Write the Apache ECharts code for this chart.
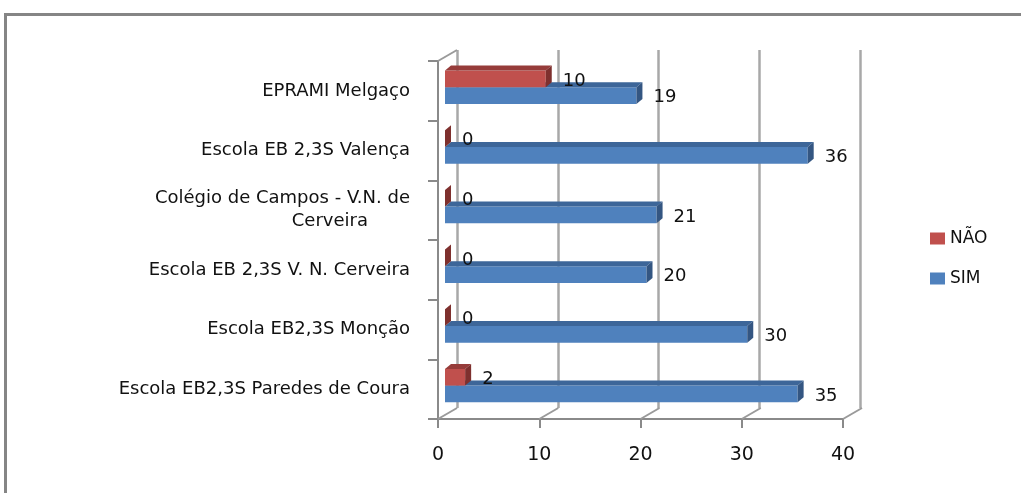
<!DOCTYPE html>
<html lang="pt">
<head>
  <meta charset="UTF-8">
  <title>SIM / NÃO por escola</title>
  <style>
    html, body { margin: 0; padding: 0; background: #fff; }
    #main { width: 1021px; height: 493px; }
  </style>
</head>
<body>
  <div id="main"></div>
  <script src="https://cdn.jsdelivr.net/npm/echarts@6/dist/echarts.min.js"></script>
  <script>
  // dados (de baixo para cima)
  let categories = [
    'Escola EB2,3S Paredes de Coura',
    'Escola EB2,3S Monção',
    'Escola EB 2,3S V. N. Cerveira',
    'Colégio de Campos - V.N. de\nCerveira',
    'Escola EB 2,3S Valença',
    'EPRAMI Melgaço'
  ];
  let simValues = [35, 30, 20, 21, 36, 19];
  let naoValues = [2, 0, 0, 0, 0, 10];
  let xTicks = [0, 10, 20, 30, 40];

  let FONT = 'DejaVu Sans';
  let DX = 6, DY = -5;   // profundidade das barras

  let colors = {
    'SIM': { front: '#4f81bd', top: '#3d6699', side: '#345682' },
    'NÃO': { front: '#c0504d', top: '#963c3a', side: '#7e302e' }
  };

  function barRenderer(name, upper) {
    return function(params, api) {
      let v = api.value(0);
      let c = api.value(1);
      let p0 = api.coord([0, c]);
      let p1 = api.coord([v, c]);
      let band = api.size([0, 1])[1];
      let h = band * 0.28;
      let mid = p0[1] - band * 0.06;
      let top = upper ? mid - h : mid;
      let x0 = p0[0], x1 = p1[0];
      let col = colors[name];
      let children = [];
      if (x1 > x0) {
        children.push({ type: 'rect', shape: { x: x0, y: top, width: x1 - x0, height: h },
          style: { fill: col.front } });
        children.push({ type: 'polygon', shape: { points: [[x0, top], [x1, top], [x1 + DX, top + DY], [x0 + DX, top + DY]] },
          style: { fill: col.top } });
      }
      children.push({ type: 'polygon', shape: { points: [[x1, top], [x1 + DX, top + DY], [x1 + DX, top + h + DY], [x1, top + h]] },
        style: { fill: col.side } });
      children.push({ type: 'text', style: { text: String(v), x: x1 + DX + 11, y: top + h / 2 + 2,
        verticalAlign: 'middle', fill: '#111', font: '18px "' + FONT + '"' } });
      return { type: 'group', children: children };
    };
  }

  function floorRenderer(params, api) {
    let v = api.value(0);
    let band = api.size([0, 1])[1];
    let pb = api.coord([v, 0]);
    let yb = pb[1] + band / 2;
    let lineStyle = { stroke: '#9a9a9a', lineWidth: 2 };
    let children = [{ type: 'line', shape: { x1: pb[0], y1: yb, x2: pb[0] + 19, y2: yb - 11 }, style: lineStyle }];
    if (v === 0) {
      let pt = api.coord([0, categories.length - 1]);
      let yt = pt[1] - band / 2;
      children.push({ type: 'line', shape: { x1: pt[0], y1: yt, x2: pt[0] + 19, y2: yt - 11 }, style: lineStyle });
    }
    return { type: 'group', children: children };
  }

  let myChart = echarts.init(document.getElementById('main'));
  let option = {
    backgroundColor: '#fff',
    animation: false,
    graphic: [{
      type: 'rect', left: 3, top: 12, shape: { width: 1100, height: 600 },
      style: { fill: 'none', stroke: '#858585', lineWidth: 3 }, silent: true
    }],
    legend: {
      data: ['NÃO', 'SIM'],
      orient: 'vertical',
      left: 925, top: 225,
      icon: 'rect',
      itemWidth: 15, itemHeight: 12, itemGap: 23,
      textStyle: { fontFamily: FONT, fontSize: 17, color: '#111' }
    },
    grid: [
      // barras
      { left: 445, width: 403, top: 61, height: 358 },
      // plano da frente (eixos)
      { left: 438, width: 405, top: 61, height: 358 },
      // plano de trás (grelha)
      { left: 457, width: 403, top: 50, height: 358 }
    ],
    xAxis: [
      { gridIndex: 0, type: 'value', min: 0, max: 40, interval: 10, show: false },
      { gridIndex: 1, type: 'value', min: 0, max: 40, interval: 10,
        axisLine: { show: true, lineStyle: { color: '#8a8a8a', width: 2 } },
        axisTick: { show: true, length: 9, lineStyle: { color: '#8a8a8a', width: 2 } },
        axisLabel: { margin: 27, fontFamily: FONT, fontSize: 19, color: '#111' },
        splitLine: { show: false } },
      { gridIndex: 2, type: 'value', min: 0, max: 40, interval: 10,
        axisLine: { show: false }, axisTick: { show: false }, axisLabel: { show: false },
        splitLine: { show: true, lineStyle: { color: '#a8a8a8', width: 2.5 } } }
    ],
    yAxis: [
      { gridIndex: 0, type: 'category', data: categories, show: false },
      { gridIndex: 1, type: 'category', data: categories,
        axisLine: { show: true, lineStyle: { color: '#8a8a8a', width: 2 } },
        axisTick: { show: true, length: 10, lineStyle: { color: '#8a8a8a', width: 2 } },
        axisLabel: {
          margin: 28, fontFamily: FONT, fontSize: 18, color: '#111', lineHeight: 23,
          formatter: function(value) {
            let parts = value.split('\n');
            if (parts.length > 1) return '{a|' + parts[0] + '}\n{b|' + parts[1] + '}';
            return value;
          },
          rich: {
            a: { fontFamily: FONT, fontSize: 18, color: '#111', lineHeight: 23 },
            b: { fontFamily: FONT, fontSize: 18, color: '#111', lineHeight: 23, padding: [0, 42, 0, 0] }
          }
        } },
      { gridIndex: 2, type: 'category', data: categories, show: false }
    ],
    series: [
      { name: 'SIM', type: 'custom', xAxisIndex: 0, yAxisIndex: 0,
        itemStyle: { color: colors['SIM'].front },
        renderItem: barRenderer('SIM', false),
        encode: { x: 0, y: 1 },
        data: simValues.map((v, i) => [v, i]) },
      { name: 'NÃO', type: 'custom', xAxisIndex: 0, yAxisIndex: 0,
        itemStyle: { color: colors['NÃO'].front },
        renderItem: barRenderer('NÃO', true),
        encode: { x: 0, y: 1 },
        data: naoValues.map((v, i) => [v, i]) },
      { name: 'chao', type: 'custom', xAxisIndex: 1, yAxisIndex: 1, silent: true, z: 1,
        renderItem: floorRenderer,
        encode: { x: 0 },
        data: xTicks.map(v => [v, 0]) }
    ]
  };

  myChart.setOption(option);
  </script>
</body>
</html>
